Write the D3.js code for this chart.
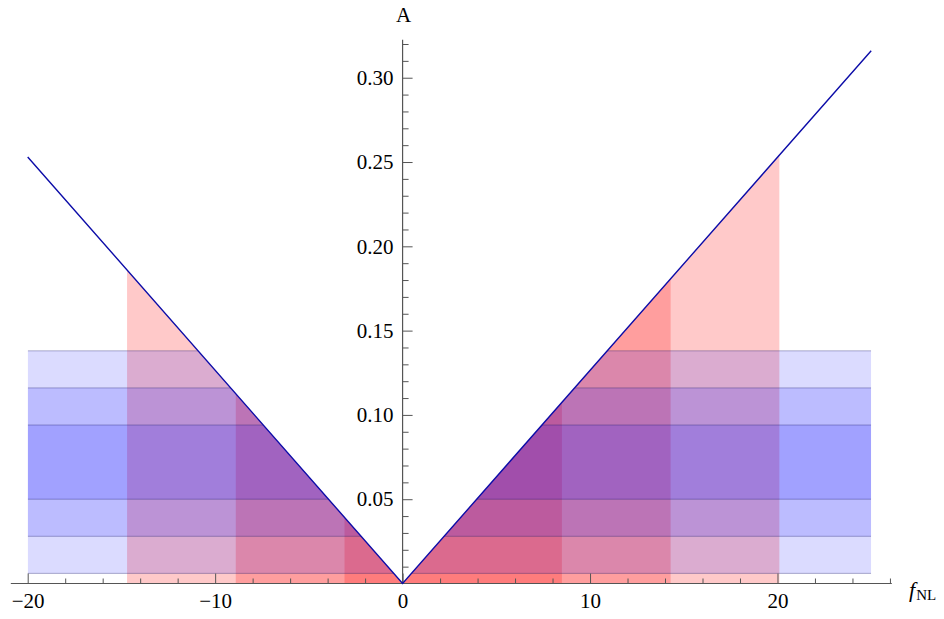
<!DOCTYPE html>
<html>
<head>
<meta charset="utf-8">
<script src="https://cdn.jsdelivr.net/npm/d3@7"></script>
<style>
  body { margin: 0; background: #fff; }
  svg { display: block; }
  .tick text { font-family: "Liberation Serif", serif; font-size: 21px; fill: #000; }
</style>
</head>
<body>
<svg width="944" height="619"></svg>
<script>
// line A(fNL)
const lineF = [-20, 0, 25];
const lineA = [0.253, 0, 0.316];

// red intervals in fNL (1, 2, 3 sigma)
const redLo = [-3.1, -8.9, -14.7];
const redHi = [8.5, 14.3, 20.1];

// blue bands in A (1, 2, 3 sigma)
const bandLo = [0.050, 0.028, 0.006];
const bandHi = [0.094, 0.116, 0.138];

const xMajor = [-20, -10, 0, 10, 20];
const xMinor = [-18, -16, -14, -12, -8, -6, -4, -2, 2, 4, 6, 8, 12, 14, 16, 18, 22, 24, 26];
const yMajor = [0.05, 0.10, 0.15, 0.20, 0.25, 0.30];
const yMinor = [0.01, 0.02, 0.03, 0.04, 0.06, 0.07, 0.08, 0.09, 0.11, 0.12, 0.13, 0.14,
  0.16, 0.17, 0.18, 0.19, 0.21, 0.22, 0.23, 0.24, 0.26, 0.27, 0.28, 0.29, 0.31, 0.32];

const svg = d3.select('svg');

const xScale = d3.scaleLinear().domain([-20, 25]).range([27.7, 871.2]);
const yScale = d3.scaleLinear().domain([0, 0.32]).range([583.5, 44]);
const lineScale = d3.scaleLinear().domain(lineF).range(lineA);

// red fills under the line
const area = d3.area()
    .x(d => xScale(d))
    .y0(yScale(0))
    .y1(d => yScale(lineScale(d)));

redLo.forEach((lo, i) => {
    svg.append('path')
        .attr('d', area([lo, 0, redHi[i]]))
        .attr('fill', 'rgb(255,0,0)')
        .attr('fill-opacity', 0.21);
});

// blue bands, only below the line
svg.append('clipPath')
    .attr('id', 'under')
    .append('path')
    .attr('d', area(lineF));

const bands = svg.append('g').attr('clip-path', 'url(#under)');

bandLo.forEach((lo, i) => {
    bands.append('rect')
        .attr('x', xScale(-20))
        .attr('width', xScale(25) - xScale(-20))
        .attr('y', yScale(bandHi[i]))
        .attr('height', yScale(lo) - yScale(bandHi[i]))
        .attr('fill', 'rgb(0,0,255)')
        .attr('fill-opacity', 0.14);
});
bandLo.concat(bandHi).forEach(v => {
    bands.append('line')
        .attr('x1', xScale(-20)).attr('x2', xScale(25))
        .attr('y1', yScale(v)).attr('y2', yScale(v))
        .attr('stroke', 'rgb(30,30,110)')
        .attr('stroke-opacity', 0.35)
        .attr('stroke-width', 1);
});

// axes
const axisColor = '#555';

svg.append('g')
    .attr('transform', 'translate(0,' + yScale(0) + ')')
    .call(d3.axisBottom(xScale).tickValues(xMajor).tickSizeInner(-10).tickSizeOuter(0).tickPadding(10));
svg.append('g')
    .attr('transform', 'translate(0,' + yScale(0) + ')')
    .call(d3.axisBottom(xScale).tickValues(xMinor).tickSizeInner(-5).tickSizeOuter(0).tickFormat(''));

svg.append('g')
    .attr('transform', 'translate(' + xScale(0) + ',0)')
    .call(d3.axisLeft(yScale).tickValues(yMajor).tickSizeInner(-10).tickSizeOuter(0)
        .tickPadding(9).tickFormat(d3.format('.2f')));
svg.append('g')
    .attr('transform', 'translate(' + xScale(0) + ',0)')
    .call(d3.axisLeft(yScale).tickValues(yMinor).tickSizeInner(-6).tickSizeOuter(0).tickFormat(''));

svg.selectAll('.domain').remove();
svg.selectAll('.tick line').attr('stroke', axisColor);

svg.append('line')
    .attr('x1', xScale(-20.9)).attr('x2', xScale(26.1))
    .attr('y1', yScale(0)).attr('y2', yScale(0))
    .attr('stroke', axisColor).attr('stroke-width', 1.2);
svg.append('line')
    .attr('x1', xScale(0)).attr('x2', xScale(0))
    .attr('y1', yScale(0)).attr('y2', yScale(0.3225))
    .attr('stroke', axisColor).attr('stroke-width', 1.2);

// the curve
svg.append('path')
    .datum(lineF)
    .attr('d', d3.line().x(d => xScale(d)).y((d, i) => yScale(lineA[i])))
    .attr('fill', 'none')
    .attr('stroke', '#0c0ca8')
    .attr('stroke-width', 1.4);

// axis labels
svg.append('text')
    .attr('x', xScale(0) + 1)
    .attr('y', 22)
    .attr('text-anchor', 'middle')
    .style('font-family', 'Liberation Serif')
    .style('font-size', '21px')
    .text('A');

const fl = svg.append('text')
    .attr('x', 909)
    .attr('y', 597)
    .style('font-family', 'Liberation Serif')
    .style('font-size', '22px');
fl.append('tspan').style('font-style', 'italic').text('f');
fl.append('tspan').attr('dx', 1).attr('dy', 3).style('font-size', '15px').text('NL');
</script>
</body>
</html>
